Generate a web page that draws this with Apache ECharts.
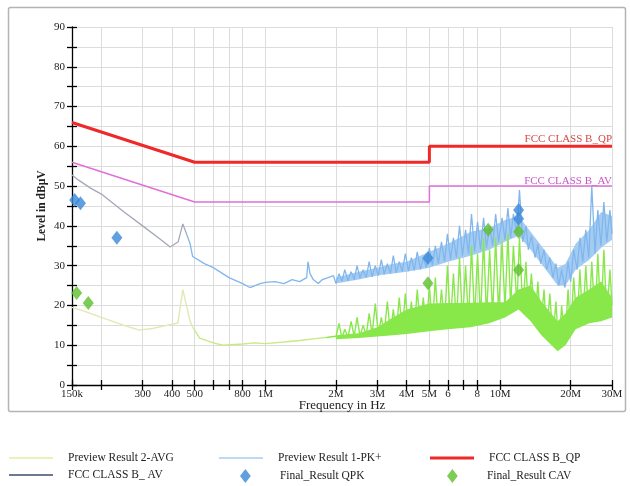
<!DOCTYPE html>
<html><head><meta charset="utf-8">
<script src="https://cdn.jsdelivr.net/npm/echarts@6/dist/echarts.min.js"></script>
<style>html,body{margin:0;padding:0;background:#fff}#c{width:630px;height:486px}</style>
</head><body><div id="c"></div>
<script>
// Frequencies in MHz, levels in dBµV
const tickFreqs = [0.15,0.2,0.3,0.4,0.5,0.6,0.7,0.8,1,2,3,4,5,6,7,8,10,20,30];
const labelFreqs = [0.15,0.3,0.4,0.5,0.8,1,2,3,4,5,6,8,10,20,30];
const labelTexts = ['150k','300','400','500','800','1M','2M','3M','4M','5M','6','8','10M','20M','30M'];

const qpFreq = [0.15,0.5,5,5,30];
const qpLevel = [66,56,56,60,60];
const avFreq = [0.15,0.5,5,5,30];
const avLevel = [56,46,46,50,50];

const pkFreq = [0.15,0.16,0.18,0.2,0.25,0.3,0.35,0.393,0.425,0.445,0.478,0.49,0.55,0.6,0.7,0.8,0.86,0.95,1.0,1.1,1.2,1.3,1.4,1.5,1.52,1.55,1.6,1.68,1.75,1.85,1.95];
const pkLevel = [52.8,51.5,49.5,48,43.5,40,37,34.7,36,40.5,35.5,32.3,30.5,29.5,27,25.5,24.5,25.5,25.8,26,25.5,26.5,26,27,31,28,26.5,25.5,26.5,27,27.5];

const avgFreq = [0.15,0.17,0.2,0.25,0.29,0.33,0.38,0.424,0.445,0.478,0.49,0.525,0.6,0.66,0.8,0.9,1.0,1.2,1.4,1.6,1.85,1.95];
const avgLevel = [19.5,18.5,17,15,13.8,14.2,15,15.6,24,16,14.5,11.8,10.6,10,10.3,10.6,10.4,10.8,11.2,11.6,12,12.2];

// dense sweep region (2 MHz - 30 MHz)
const bandFreq = [2.00,2.06,2.12,2.18,2.25,2.32,2.39,2.46,2.53,2.61,2.69,2.77,2.85,2.94,3.03,3.12,3.21,3.31,3.41,3.51,3.61,3.72,3.83,3.95,4.07,4.19,4.31,4.44,4.58,4.71,4.85,5.00,5.15,5.30,5.46,5.63,5.80,5.97,6.15,6.33,6.52,6.72,6.92,7.13,7.34,7.56,7.79,8.02,8.26,8.51,8.76,9.03,9.30,9.58,9.86,10.2,10.5,10.8,11.1,11.4,11.8,12.1,12.5,12.9,13.2,13.6,14.1,14.5,14.9,15.4,15.8,16.3,16.8,17.3,17.8,18.3,18.9,19.5,20.0,20.6,21.3,21.9,22.5,23.2,23.9,24.6,25.4,26.1,26.9,27.7,28.5,29.4,30.0];
const avgBand = [12.2,15.5,11.8,14,12,16,12.2,17,12.3,15,12.5,18,12.6,20.5,12.8,17,13,21,13,19,13.2,22,13.3,23,13.4,21,13.6,24,13.8,22,14,25,14.2,27,14.5,24,14.8,30,15,28,15.2,32,15.5,30,15.8,35,16.2,33,16.5,37,17,34,17.5,37,18.2,36,19,38,19.5,35,20,37,19,31,17.5,28,16,26,14.5,24,12.5,23,11,21,9,20,10.5,24,13,27,15,29,15.5,30,16,31,16,33,16.5,34,17,29,20];
const pkBand = [25.5,28,26,29,26.2,28.5,26.5,30,26.8,29,27,31,27.2,30,27.5,31.5,27.8,30.5,28,32.5,28.2,31,28.5,33,28.6,32,28.8,33.5,29,32,29.5,34.5,30,35,30.5,36,31,38,31.5,37,32,40,32.5,39,33,43,33.5,41,34,42,34.5,40,35,43,36,42,36.5,44.5,37,43,38,49,36,40,34,37.5,32,35.5,30.5,34,29,32,27,30.5,25,29,24.5,31,26,34,29,37,31,39,32,50,33,44,35,46,36,44,38];

// solid core of the dense sweep (lower / upper edge)
const coreFreq = [2.0,2.5,3.0,3.5,4.0,5.0,6.0,7.5,9.0,10.5,12.0,13.5,15,17.6,19,21,24,27,30];
const avgCoreLow = [11.5,11.8,12.2,12.5,12.8,13.5,14,14.5,15.5,17,19,16,12.5,8.5,10,14,15.5,16,17];
const avgCoreHigh = [12.5,13,14.5,17,19,20.5,20.6,20.7,20.8,20.8,24,25,21,16,18,22,24,26,22];
const pkCoreLow = [25.5,26.5,27.5,28,28.5,29.5,31,32.5,34,36,37.5,34,30.5,25,25,29,31.5,34.5,36.5];
const pkCoreHigh = [27,28.5,29.5,30.5,31,33.5,35.5,38.5,39.5,41.5,42.5,38.5,35,29.5,30.5,35.5,39,43.5,42.5];

const qpkFreq = [0.154,0.163,0.233,4.93,12.0,12.0];
const qpkLevel = [46.5,45.7,37,31.9,44,41.8];
const cavFreq = [0.157,0.176,4.93,8.9,12.0,12.0];
const cavLevel = [23.1,20.6,25.6,39,38.5,28.9];

const zip = (a, b) => a.map((v, i) => [v, b[i]]);
const SERIF = 'Liberation Serif';

function fmtFreq(v) {
  for (let i = 0; i < labelFreqs.length; i++) {
    if (Math.abs(Math.log10(v / labelFreqs[i])) < 0.002) return labelTexts[i];
  }
  return '';
}
function hardGrad(stops) {
  const cs = [];
  stops.forEach(s => {
    cs.push({offset: s[0], color: s[2]});
    cs.push({offset: s[1], color: s[2]});
  });
  return new echarts.graphic.LinearGradient(0, 0, 1, 0, cs);
}
// filled band between a lower and an upper edge, placed through the axes
function bandSeries(name, freqs, lo, hi, color, z) {
  return {
    name: name, type: 'custom', z: z, silent: true, clip: true,
    data: [[freqs[0], lo[0]]],
    renderItem: function (params, api) {
      const pts = freqs.map((f, i) => api.coord([f, lo[i]]))
        .concat(freqs.map((f, i) => api.coord([f, hi[i]])).reverse());
      return {type: 'polygon', shape: {points: pts}, style: {fill: color, stroke: null}};
    }
  };
}

const chart = echarts.init(document.getElementById('c'), null, {renderer: 'canvas'});
const axisBlack = {color: '#000', width: 1.3};
const gridLine = {color: '#dcdcdc', width: 1};
const LINE_ICON = 'path://M0,0H44V1.6H0Z';
const QP_ICON = 'path://M0,0H44V3H0Z';
const DIAMOND_ICON = 'path://M5,0L10,6.5L5,13L0,6.5Z';

const legendBase = {
  orient: 'horizontal', padding: 0, itemWidth: 44, itemHeight: 13,
  textStyle: {fontFamily: SERIF, fontSize: 11.5, color: '#222', padding: [0, 0, 0, 10]},
  selectedMode: false
};
const diamondLegend = {itemWidth: 11, itemHeight: 14, textStyle: {fontFamily: SERIF, fontSize: 11.5, color: '#222', padding: [0, 0, 0, 24]}};
const AVG_BAND = '#88e84a';
const PK_BAND = '#80b6ec';
const PK_CORE = '#a4ccf3';

chart.setOption({
  animation: false,
  backgroundColor: '#fff',
  grid: {left: 72, right: 18, top: 27, bottom: 101},
  xAxis: [{
    type: 'log', logBase: 10, min: 0.15, max: 30,
    name: 'Frequency in Hz', nameLocation: 'middle', nameGap: 14, nameMoveOverlap: false,
    nameTextStyle: {fontFamily: SERIF, fontSize: 13, color: '#222'},
    axisLine: {show: true, lineStyle: axisBlack},
    axisTick: {show: true, customValues: tickFreqs, length: 5, lineStyle: axisBlack},
    axisLabel: {customValues: labelFreqs, formatter: fmtFreq, fontFamily: SERIF, fontSize: 11, color: '#222', margin: 4},
    splitLine: {show: true, lineStyle: gridLine},
    minorTick: {show: false}
  }, {
    type: 'log', logBase: 10, min: 0.15, max: 30, position: 'bottom',
    axisLine: {show: false},
    axisTick: {show: true, inside: true, customValues: tickFreqs, length: 5, lineStyle: axisBlack},
    axisLabel: {show: false},
    splitLine: {show: false}
  }],
  yAxis: [{
    type: 'value', min: 0, max: 90, interval: 10,
    name: 'Level in dBµV', nameLocation: 'middle', nameGap: 24, nameMoveOverlap: false,
    nameTextStyle: {fontFamily: SERIF, fontSize: 11.5, fontWeight: 'bold', color: '#222'},
    axisLine: {show: true, lineStyle: axisBlack},
    axisTick: {show: true, length: 5, lineStyle: axisBlack},
    minorTick: {show: true, splitNumber: 2, length: 5, lineStyle: axisBlack},
    axisLabel: {fontFamily: SERIF, fontSize: 11, color: '#222', margin: 7},
    splitLine: {show: true, lineStyle: gridLine},
    minorSplitLine: {show: true, lineStyle: gridLine}
  }, {
    type: 'value', min: 0, max: 90, interval: 10, position: 'left',
    axisLine: {show: false},
    axisTick: {show: true, inside: true, length: 5, lineStyle: axisBlack},
    minorTick: {show: true, splitNumber: 2, length: 5, lineStyle: axisBlack},
    axisLabel: {show: false},
    splitLine: {show: false}
  }],
  legend: [
    Object.assign({}, legendBase, {left: 9, top: 452, data: [{name: 'Preview Result 2-AVG', icon: LINE_ICON, itemStyle: {color: '#e6eca0'}}]}),
    Object.assign({}, legendBase, {left: 9, top: 469, data: [{name: 'FCC CLASS B_ AV', icon: LINE_ICON, itemStyle: {color: '#3e4a70'}}]}),
    Object.assign({}, legendBase, {left: 219, top: 452, data: [{name: 'Preview Result 1-PK+', icon: LINE_ICON, itemStyle: {color: '#a8ccf0'}}]}),
    Object.assign({}, legendBase, diamondLegend, {left: 240, top: 469, data: [{name: 'Final_Result QPK', icon: DIAMOND_ICON, itemStyle: {color: '#3a88d8'}}]}),
    Object.assign({}, legendBase, {left: 430, top: 452, data: [{name: 'FCC CLASS B_QP', icon: QP_ICON, itemStyle: {color: '#f02828'}}]}),
    Object.assign({}, legendBase, diamondLegend, {left: 447, top: 469, data: [{name: 'Final_Result CAV', icon: DIAMOND_ICON, itemStyle: {color: '#5cbf2c'}}]})
  ],
  graphic: [
    {type: 'rect', silent: true, z: -10, shape: {x: 8.5, y: 7.5, width: 617, height: 404, r: 2},
     style: {fill: 'none', stroke: '#b4b4b4', lineWidth: 1.5}},
    {type: 'text', silent: true, z: 20, x: 612, y: 139,
     style: {text: 'FCC CLASS B_QP', fill: '#d44848', font: '11px "Liberation Serif"', textAlign: 'right', textVerticalAlign: 'middle'}},
    {type: 'text', silent: true, z: 20, x: 612, y: 181,
     style: {text: 'FCC CLASS B_AV', fill: '#c858c8', font: '11px "Liberation Serif"', textAlign: 'right', textVerticalAlign: 'middle'}}
  ],
  series: [
    bandSeries('Preview Result 1-PK+', coreFreq, pkCoreLow, pkCoreHigh, PK_CORE, 2),
    {
      name: 'Preview Result 1-PK+', type: 'line', symbol: 'none', z: 2,
      data: zip(pkFreq.concat(bandFreq), pkLevel.concat(pkBand)),
      lineStyle: {width: 1.3, color: hardGrad([[0, 0.215, '#a3a8b8'], [0.216, 1, PK_BAND]])}
    },
    bandSeries('Preview Result 2-AVG', coreFreq, avgCoreLow, avgCoreHigh, AVG_BAND, 3),
    {
      name: 'Preview Result 2-AVG', type: 'line', symbol: 'none', z: 3,
      data: zip(avgFreq.concat(bandFreq), avgLevel.concat(avgBand)),
      lineStyle: {width: 1.4, color: hardGrad([[0, 0.228, '#dfe9b2'], [0.229, 0.47, '#c6ea84'], [0.471, 1, AVG_BAND]])}
    },
    {
      name: 'FCC CLASS B_ AV', type: 'line', symbol: 'none', z: 4,
      data: zip(avFreq, avLevel),
      lineStyle: {width: 1.5, color: '#e070d8'}, itemStyle: {color: '#e070d8'}
    },
    {
      name: 'FCC CLASS B_QP', type: 'line', symbol: 'none', z: 5,
      data: zip(qpFreq, qpLevel),
      lineStyle: {width: 3, color: '#f02828'}, itemStyle: {color: '#f02828'}
    },
    {
      name: 'Final_Result QPK', type: 'scatter', symbol: 'diamond', symbolSize: [11, 14], z: 6,
      data: zip(qpkFreq, qpkLevel), itemStyle: {color: '#3a88d8'}
    },
    {
      name: 'Final_Result CAV', type: 'scatter', symbol: 'diamond', symbolSize: [11, 14], z: 7,
      data: zip(cavFreq, cavLevel), itemStyle: {color: '#5cbf2c'}
    }
  ]
});
</script></body></html>
